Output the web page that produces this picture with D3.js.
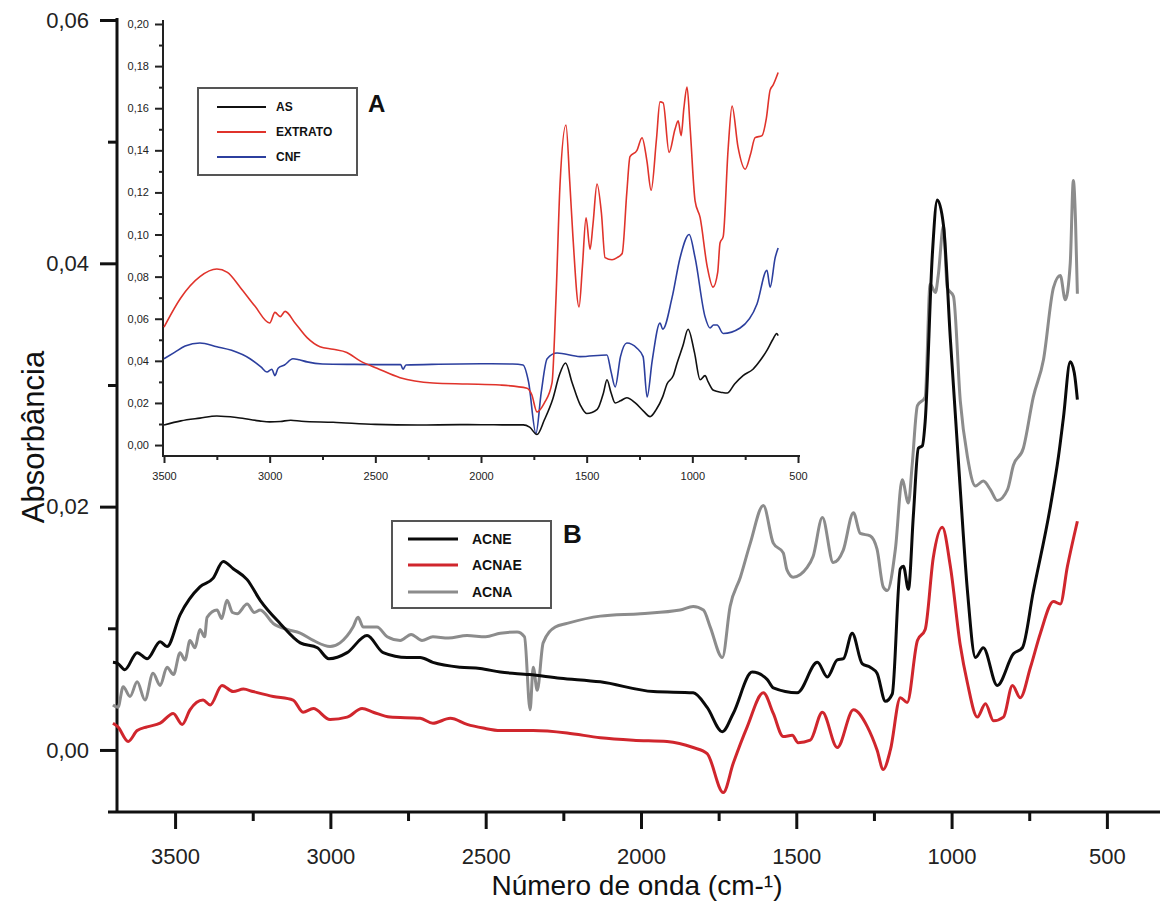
<!DOCTYPE html>
<html><head><meta charset="utf-8">
<script src="https://cdn.jsdelivr.net/npm/d3@7"></script>
<style>html,body{margin:0;padding:0;background:#fff}svg{display:block}text{font-family:"Liberation Sans",Arial,sans-serif}</style>
</head><body>
<svg id="chart" width="1166" height="901"></svg>
<script>
// ===== Main panel (B) data: [wavenumber cm-1, absorbance]
const acne = [[3700,0.0072],[3684,0.0071],[3662,0.0066],[3622,0.0080],[3590,0.0075],[3548,0.0089],[3526,0.0085],[3484,0.0111],[3420,0.0134],[3378,0.0141],[3345,0.0155],[3313,0.0149],[3268,0.0140],[3226,0.0123],[3162,0.0104],[3097,0.0088],[3042,0.0084],[3005,0.0075],[2946,0.0080],[2882,0.0094],[2830,0.0080],[2753,0.0076],[2711,0.0076],[2670,0.0072],[2582,0.0068],[2518,0.0067],[2453,0.0064],[2360,0.0062],[2260,0.0059],[2131,0.0056],[1960,0.0048],[1832,0.0047],[1787,0.0035],[1738,0.0015],[1703,0.0030],[1642,0.0064],[1594,0.0058],[1574,0.0051],[1497,0.0047],[1432,0.0072],[1400,0.0060],[1368,0.0074],[1348,0.0075],[1320,0.0096],[1288,0.0071],[1262,0.0068],[1240,0.0063],[1213,0.0040],[1191,0.0046],[1165,0.0149],[1155,0.0151],[1139,0.0132],[1123,0.0193],[1107,0.0248],[1094,0.0250],[1085,0.0270],[1062,0.0407],[1046,0.0452],[1026,0.0431],[1004,0.0338],[972,0.0214],[949,0.0131],[923,0.0076],[898,0.0084],[853,0.0053],[801,0.0079],[772,0.0084],[737,0.0130],[682,0.0200],[656,0.0241],[640,0.0273],[618,0.0319],[605,0.0310],[595,0.0288]];
const acnae = [[3700,0.0022],[3684,0.0019],[3651,0.0007],[3622,0.0016],[3590,0.0019],[3548,0.0022],[3506,0.0030],[3477,0.0021],[3452,0.0033],[3410,0.0041],[3387,0.0037],[3349,0.0053],[3313,0.0048],[3280,0.0050],[3249,0.0048],[3184,0.0044],[3120,0.0041],[3088,0.0031],[3055,0.0034],[3001,0.0025],[2946,0.0027],[2898,0.0034],[2862,0.0031],[2808,0.0027],[2711,0.0026],[2670,0.0022],[2614,0.0026],[2560,0.0021],[2508,0.0018],[2453,0.0016],[2347,0.0016],[2238,0.0014],[2131,0.0010],[2025,0.0008],[1916,0.0007],[1832,0.0002],[1787,-0.0003],[1735,-0.0035],[1703,-0.0011],[1658,0.0019],[1606,0.0047],[1574,0.0030],[1542,0.0011],[1513,0.0012],[1494,0.0006],[1455,0.0008],[1416,0.0031],[1368,0.0002],[1316,0.0033],[1271,0.0019],[1240,0.0000],[1220,-0.0016],[1197,0.0000],[1165,0.0043],[1143,0.0039],[1110,0.0090],[1085,0.0099],[1059,0.0158],[1030,0.0183],[1004,0.0151],[972,0.0086],[949,0.0055],[917,0.0027],[891,0.0038],[865,0.0024],[833,0.0027],[804,0.0053],[779,0.0043],[746,0.0068],[714,0.0096],[672,0.0122],[650,0.0120],[627,0.0151],[595,0.0188]];
const acna = [[3700,0.0037],[3684,0.0035],[3667,0.0052],[3645,0.0044],[3622,0.0056],[3597,0.0041],[3571,0.0063],[3548,0.0053],[3526,0.0068],[3505,0.0062],[3484,0.0080],[3468,0.0074],[3452,0.0090],[3436,0.0084],[3420,0.0099],[3405,0.0093],[3397,0.0109],[3365,0.0115],[3350,0.0108],[3333,0.0123],[3315,0.0113],[3300,0.0112],[3268,0.0120],[3245,0.0113],[3226,0.0115],[3184,0.0104],[3139,0.0099],[3097,0.0096],[3055,0.0090],[3001,0.0085],[2969,0.0088],[2927,0.0101],[2911,0.0109],[2894,0.0101],[2850,0.0101],[2817,0.0093],[2775,0.0090],[2740,0.0095],[2705,0.0090],[2670,0.0093],[2620,0.0092],[2560,0.0094],[2500,0.0093],[2453,0.0096],[2399,0.0097],[2375,0.0093],[2357,0.0033],[2347,0.0068],[2334,0.0049],[2315,0.0088],[2276,0.0101],[2238,0.0104],[2131,0.0110],[2002,0.0112],[1874,0.0115],[1832,0.0118],[1799,0.0115],[1777,0.0101],[1738,0.0076],[1713,0.0118],[1680,0.0142],[1648,0.0170],[1606,0.0201],[1574,0.0170],[1542,0.0162],[1530,0.0148],[1510,0.0142],[1465,0.0150],[1446,0.0159],[1416,0.0191],[1381,0.0154],[1349,0.0164],[1316,0.0195],[1294,0.0178],[1262,0.0176],[1240,0.0165],[1220,0.0134],[1207,0.0131],[1181,0.0165],[1159,0.0222],[1139,0.0203],[1127,0.0234],[1110,0.0283],[1085,0.0290],[1069,0.0383],[1052,0.0376],[1043,0.0390],[1026,0.0431],[1014,0.0380],[994,0.0373],[972,0.0287],[949,0.0241],[923,0.0217],[898,0.0221],[875,0.0214],[853,0.0205],[820,0.0214],[801,0.0234],[769,0.0248],[737,0.0290],[704,0.0321],[672,0.0380],[650,0.0390],[634,0.0370],[618,0.0400],[608,0.0468],[601,0.0435],[595,0.0375]];

// ===== Inset panel (A) data
const as = [[3500,0.0095],[3420,0.0115],[3330,0.0128],[3250,0.0138],[3150,0.0130],[3050,0.0115],[3000,0.0110],[2950,0.0112],[2900,0.0118],[2850,0.0113],[2700,0.0108],[2500,0.0098],[2300,0.0095],[2100,0.0097],[1900,0.0096],[1800,0.0096],[1770,0.0085],[1735,0.0050],[1700,0.0120],[1660,0.0220],[1630,0.0330],[1600,0.0390],[1570,0.0300],[1530,0.0190],[1500,0.0150],[1450,0.0170],[1420,0.0250],[1404,0.0310],[1385,0.0250],[1365,0.0200],[1340,0.0210],[1310,0.0225],[1270,0.0200],[1230,0.0160],[1200,0.0135],[1170,0.0170],[1140,0.0230],[1120,0.0290],[1090,0.0330],[1072,0.0390],[1045,0.0470],[1020,0.0550],[990,0.0440],[963,0.0310],[940,0.0330],[925,0.0300],[900,0.0260],[860,0.0250],[835,0.0247],[800,0.0290],[760,0.0330],[713,0.0360],[680,0.0400],[647,0.0450],[620,0.0500],[600,0.0530],[594,0.0520]];
const extrato = [[3500,0.0560],[3420,0.0700],[3330,0.0800],[3250,0.0836],[3200,0.0820],[3140,0.0750],[3070,0.0660],[3000,0.0580],[2975,0.0630],[2950,0.0610],[2927,0.0635],[2880,0.0580],[2823,0.0510],[2762,0.0467],[2700,0.0455],[2635,0.0440],[2572,0.0400],[2492,0.0365],[2383,0.0320],[2227,0.0295],[2066,0.0290],[1910,0.0285],[1782,0.0270],[1760,0.0240],[1735,0.0157],[1700,0.0200],[1664,0.0295],[1645,0.0700],[1626,0.1240],[1598,0.1520],[1580,0.1250],[1565,0.0990],[1536,0.0656],[1520,0.0850],[1503,0.1080],[1484,0.0930],[1470,0.1050],[1451,0.1240],[1430,0.1100],[1413,0.0890],[1380,0.0880],[1356,0.0890],[1332,0.0910],[1310,0.1200],[1295,0.1370],[1262,0.1400],[1238,0.1460],[1215,0.1350],[1195,0.1210],[1170,0.1450],[1153,0.1630],[1138,0.1625],[1110,0.1390],[1082,0.1500],[1067,0.1540],[1053,0.1470],[1040,0.1600],[1025,0.1700],[1010,0.1500],[987,0.1160],[963,0.1080],[930,0.0850],[902,0.0750],[880,0.0820],[869,0.0960],[854,0.0990],[831,0.1400],[812,0.1610],[784,0.1416],[750,0.1310],[725,0.1380],[703,0.1460],[670,0.1470],[650,0.1550],[632,0.1686],[618,0.1710],[594,0.1770]];
const cnf = [[3500,0.0410],[3450,0.0440],[3400,0.0470],[3330,0.0485],[3250,0.0467],[3180,0.0450],[3093,0.0410],[3040,0.0370],[3013,0.0347],[2990,0.0360],[2975,0.0330],[2960,0.0365],[2930,0.0380],[2890,0.0410],[2860,0.0405],[2823,0.0395],[2750,0.0385],[2600,0.0383],[2450,0.0382],[2380,0.0382],[2369,0.0360],[2355,0.0380],[2200,0.0384],[2000,0.0386],[1850,0.0385],[1801,0.0380],[1775,0.0300],[1740,0.0055],[1715,0.0250],[1687,0.0410],[1640,0.0437],[1531,0.0420],[1404,0.0428],[1385,0.0350],[1365,0.0276],[1340,0.0420],[1310,0.0485],[1262,0.0460],[1233,0.0420],[1214,0.0228],[1190,0.0400],[1153,0.0580],[1140,0.0550],[1096,0.0700],[1058,0.0890],[1015,0.1000],[987,0.0890],[940,0.0610],[916,0.0556],[900,0.0570],[883,0.0570],[854,0.0530],[774,0.0556],[694,0.0670],[647,0.0830],[632,0.0750],[608,0.0890],[594,0.0936]];

// ===== Ticks & labels
const mainXTicks = [3500,3000,2500,2000,1500,1000,500];
const mainXMinor = [3250,2750,2250,1750,1250,750];
const mainYTicks = [0,0.02,0.04,0.06];
const mainYMinor = [0.01,0.03,0.05];
const insetXTicks = [3500,3000,2500,2000,1500,1000,500];
const insetXMinor = [3250,2750,2250,1750,1250,750];
const insetYTicks = [0,0.02,0.04,0.06,0.08,0.10,0.12,0.14,0.16,0.18,0.20];
const insetYMinor = [0.01,0.03,0.05,0.07,0.09,0.11,0.13,0.15,0.17,0.19];
const mainSeries = ["ACNE","ACNAE","ACNA"];
const insetSeries = ["AS","EXTRATO","CNF"];
const xTitle = "Número de onda (cm-¹)";
const yTitle = "Absorbância";

const svg = d3.select("#chart");
svg.append("rect").attr("width",1166).attr("height",901).attr("fill","#fff");
const comma = d => d3.format(".2f")(d).replace(".", ",");

// ----- Main scales
const x = d3.scaleLinear().domain([3687, 329]).range([117, 1160]);
const y = d3.scaleLinear().domain([-0.0051, 0.06]).range([812, 20]);

function styleAxis(g, w, col, fs) {
  g.select(".domain").remove();
  g.selectAll(".tick line").attr("stroke", col).attr("stroke-width", w);
  g.selectAll(".tick text").attr("fill", "#222").style("font-size", fs + "px")
   .style("font-family", '"Liberation Sans",Arial,sans-serif');
}

// main axes
const gx = svg.append("g").attr("transform","translate(0,812)");
gx.call(d3.axisBottom(x).tickValues(mainXTicks).tickSize(17).tickPadding(19).tickFormat(d3.format("d")));
styleAxis(gx, 3, "#111", 22);
const gxm = svg.append("g").attr("transform","translate(0,812)");
gxm.call(d3.axisBottom(x).tickValues(mainXMinor).tickSize(9).tickFormat(""));
styleAxis(gxm, 3, "#111", 22);
const gy = svg.append("g").attr("transform","translate(117,0)");
gy.call(d3.axisLeft(y).tickValues(mainYTicks).tickSize(17).tickPadding(11).tickFormat(comma));
styleAxis(gy, 3, "#111", 22);
const gym = svg.append("g").attr("transform","translate(117,0)");
gym.call(d3.axisLeft(y).tickValues(mainYMinor).tickSize(9).tickFormat(""));
styleAxis(gym, 3, "#111", 22);
svg.append("line").attr("x1",108).attr("x2",1160).attr("y1",812).attr("y2",812).attr("stroke","#111").attr("stroke-width",3);
svg.append("line").attr("x1",117).attr("x2",117).attr("y1",18).attr("y2",813).attr("stroke","#111").attr("stroke-width",3);

svg.append("text").attr("x",637).attr("y",895).attr("text-anchor","middle")
  .style("font-size","28px").attr("fill","#111").text(xTitle);
svg.append("text").attr("transform","translate(44,437) rotate(-90)").attr("text-anchor","middle")
  .style("font-size","31px").attr("fill","#111").text(yTitle);

// main curves
const mainLine = d3.line().x(d => x(d[0])).y(d => y(d[1])).curve(d3.curveMonotoneX);
const mainColors = ["#0a0a0a","#d0262d","#8c8c8c"];
[[acna,2],[acne,0],[acnae,1]].forEach(([s,i]) => {
  svg.append("path").datum(s).attr("d", mainLine).attr("fill","none")
    .attr("stroke", mainColors[i]).attr("stroke-width", 3).attr("stroke-linejoin","round");
});

// ----- Inset scales
const xi = d3.scaleLinear().domain([3500, 500]).range([164, 798]);
const yi = d3.scaleLinear().domain([-0.0052, 0.2]).range([456, 24]);

const gxi = svg.append("g").attr("transform","translate(0,456)");
gxi.call(d3.axisBottom(xi).tickValues(insetXTicks).tickSize(7).tickPadding(9).tickFormat(d3.format("d")));
styleAxis(gxi, 2, "#222", 11);
const gxim = svg.append("g").attr("transform","translate(0,456)");
gxim.call(d3.axisBottom(xi).tickValues(insetXMinor).tickSize(4).tickFormat(""));
styleAxis(gxim, 2, "#222", 11);
const gyi = svg.append("g").attr("transform","translate(163,0)");
gyi.call(d3.axisLeft(yi).tickValues(insetYTicks).tickSize(8).tickPadding(6).tickFormat(comma));
styleAxis(gyi, 2, "#222", 11);
const gyim = svg.append("g").attr("transform","translate(163,0)");
gyim.call(d3.axisLeft(yi).tickValues(insetYMinor).tickSize(4).tickFormat(""));
styleAxis(gyim, 2, "#222", 11);
svg.append("line").attr("x1",163).attr("x2",800).attr("y1",456).attr("y2",456).attr("stroke","#222").attr("stroke-width",2);
svg.append("line").attr("x1",163).attr("x2",163).attr("y1",20).attr("y2",457).attr("stroke","#222").attr("stroke-width",2);

const insetLine = d3.line().x(d => xi(d[0])).y(d => yi(d[1])).curve(d3.curveMonotoneX);
const insetColors = ["#111111","#e0332b","#2c3f9e"];
[[cnf,2],[extrato,1],[as,0]].forEach(([s,i]) => {
  svg.append("path").datum(s).attr("d", insetLine).attr("fill","none")
    .attr("stroke", insetColors[i]).attr("stroke-width", 1.6).attr("stroke-linejoin","round");
});

// ----- Legends
function legend(x0, y0, w, h, lx1, lx2, tx, rows, names, colors, lw, fs) {
  svg.append("rect").attr("x",x0).attr("y",y0).attr("width",w).attr("height",h)
    .attr("fill","#fff").attr("stroke","#555").attr("stroke-width",2);
  names.forEach((n, i) => {
    svg.append("line").attr("x1",lx1).attr("x2",lx2).attr("y1",rows[i]).attr("y2",rows[i])
      .attr("stroke",colors[i]).attr("stroke-width",lw);
    svg.append("text").attr("x",tx).attr("y",rows[i]).attr("dy","0.35em")
      .style("font-size",fs+"px").style("font-weight","bold").attr("fill","#111").text(n);
  });
}
legend(198, 88, 159, 87, 217, 266, 276, [107,132,157], insetSeries, insetColors, 2, 12);
svg.append("text").attr("x",368).attr("y",112).style("font-size","24px").style("font-weight","bold").attr("fill","#111").text("A");
legend(392, 521, 159, 87, 408, 458, 472, [539,565,592], mainSeries, mainColors, 3, 14);
svg.append("text").attr("x",563).attr("y",543).style("font-size","26px").style("font-weight","bold").attr("fill","#111").text("B");
</script>
</body></html>
